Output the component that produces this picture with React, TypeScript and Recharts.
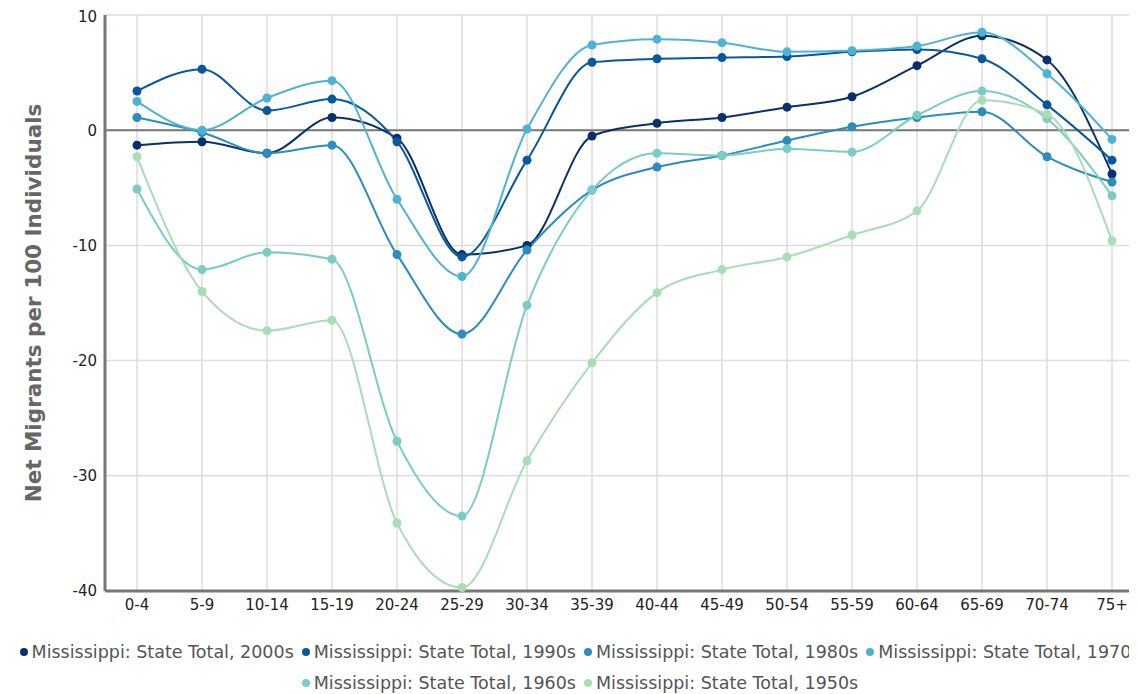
import React from 'react';
import { LineChart, Line, XAxis, YAxis, CartesianGrid, ReferenceLine } from 'recharts';

const categories = ['0-4', '5-9', '10-14', '15-19', '20-24', '25-29', '30-34', '35-39', '40-44', '45-49', '50-54', '55-59', '60-64', '65-69', '70-74', '75+'];

const s2000 = [-1.3, -1.0, -2.0, 1.1, -0.7, -10.8, -10.0, -0.5, 0.6, 1.1, 2.0, 2.9, 5.6, 8.2, 6.1, -3.8];
const s1990 = [3.4, 5.3, 1.7, 2.7, -1.0, -11.0, -2.6, 5.9, 6.2, 6.3, 6.4, 6.8, 7.0, 6.2, 2.2, -2.6];
const s1980 = [1.1, -0.2, -2.0, -1.3, -10.8, -17.7, -10.4, -5.2, -3.2, -2.2, -0.9, 0.3, 1.1, 1.6, -2.3, -4.5];
const s1970 = [2.5, 0.0, 2.8, 4.3, -6.0, -12.7, 0.1, 7.4, 7.9, 7.6, 6.8, 6.9, 7.3, 8.5, 4.9, -0.8];
const s1960 = [-5.1, -12.1, -10.6, -11.2, -27.0, -33.5, -15.2, -5.2, -2.0, -2.2, -1.6, -1.9, 1.3, 3.4, 1.0, -5.7];
const s1950 = [-2.3, -14.0, -17.4, -16.5, -34.1, -39.7, -28.7, -20.2, -14.1, -12.1, -11.0, -9.1, -7.0, 2.6, 1.4, -9.6];

const yTicks = [-40, -30, -20, -10, 0, 10];

const seriesKeys = ['s2000', 's1990', 's1980', 's1970', 's1960', 's1950'];
const seriesNames = [
  'Mississippi: State Total, 2000s',
  'Mississippi: State Total, 1990s',
  'Mississippi: State Total, 1980s',
  'Mississippi: State Total, 1970s',
  'Mississippi: State Total, 1960s',
  'Mississippi: State Total, 1950s',
];
const seriesColors = ['#08306b', '#08589e', '#2b8cbe', '#4eb3d3', '#7bccc4', '#a8ddb5'];
const seriesValues = [s2000, s1990, s1980, s1970, s1960, s1950];

const data = categories.map((c, i) => {
  const row: Record<string, string | number> = { cat: c };
  seriesKeys.forEach((k, j) => {
    row[k] = seriesValues[j][i];
  });
  return row;
});

export default function App() {
  return (
    <div style={{ width: 1129, overflow: 'hidden', fontFamily: '"DejaVu Sans", sans-serif' }}>
      <div style={{ width: 1144 }}>
        <LineChart width={1144} height={613} data={data} margin={{ top: 7, right: 7, bottom: 0, left: 0 }}>
          <CartesianGrid stroke="#dddddd" strokeWidth={1.5} />
          <XAxis
            dataKey="cat"
            interval={0}
            height={30}
            padding={{ left: 32, right: 33 }}
            tickLine={false}
            axisLine={{ stroke: '#777777', strokeWidth: 3 }}
            tick={{ fill: '#222222', fontSize: 15 }}
          />
          <YAxis
            type="number"
            domain={[-40, 10]}
            ticks={yTicks}
            width={97}
            tickLine={false}
            axisLine={{ stroke: '#777777', strokeWidth: 3 }}
            tick={{ fill: '#222222', fontSize: 15 }}
            label={{
              value: 'Net Migrants per 100 Individuals',
              angle: -90,
              position: 'insideLeft',
              offset: 25,
              style: { textAnchor: 'middle', fontWeight: 'bold', fontSize: 21.5, fill: '#666666' },
            }}
          />
          <ReferenceLine y={0} stroke="#777777" strokeWidth={2} />
          {seriesKeys.map((k, j) => (
            <Line
              key={k}
              type="monotone"
              dataKey={k}
              name={seriesNames[j]}
              stroke={seriesColors[j]}
              strokeWidth={2}
              dot={{ r: 4.5, fill: seriesColors[j], stroke: 'none' }}
              activeDot={false}
              isAnimationActive={false}
            />
          ))}
        </LineChart>
        <div
          style={{
            display: 'flex',
            flexWrap: 'wrap',
            justifyContent: 'center',
            columnGap: 8,
            rowGap: 9,
            paddingTop: 20,
            fontSize: 17.5,
            color: '#555555',
            lineHeight: '22px',
          }}
        >
          {seriesNames.map((n, j) => (
            <div key={n} style={{ display: 'flex', alignItems: 'center', whiteSpace: 'nowrap' }}>
              <span
                style={{
                  display: 'inline-block',
                  width: 8,
                  height: 8,
                  borderRadius: 4,
                  background: seriesColors[j],
                  marginRight: 4,
                }}
              />
              <span>{n}</span>
            </div>
          ))}
        </div>
      </div>
    </div>
  );
}
